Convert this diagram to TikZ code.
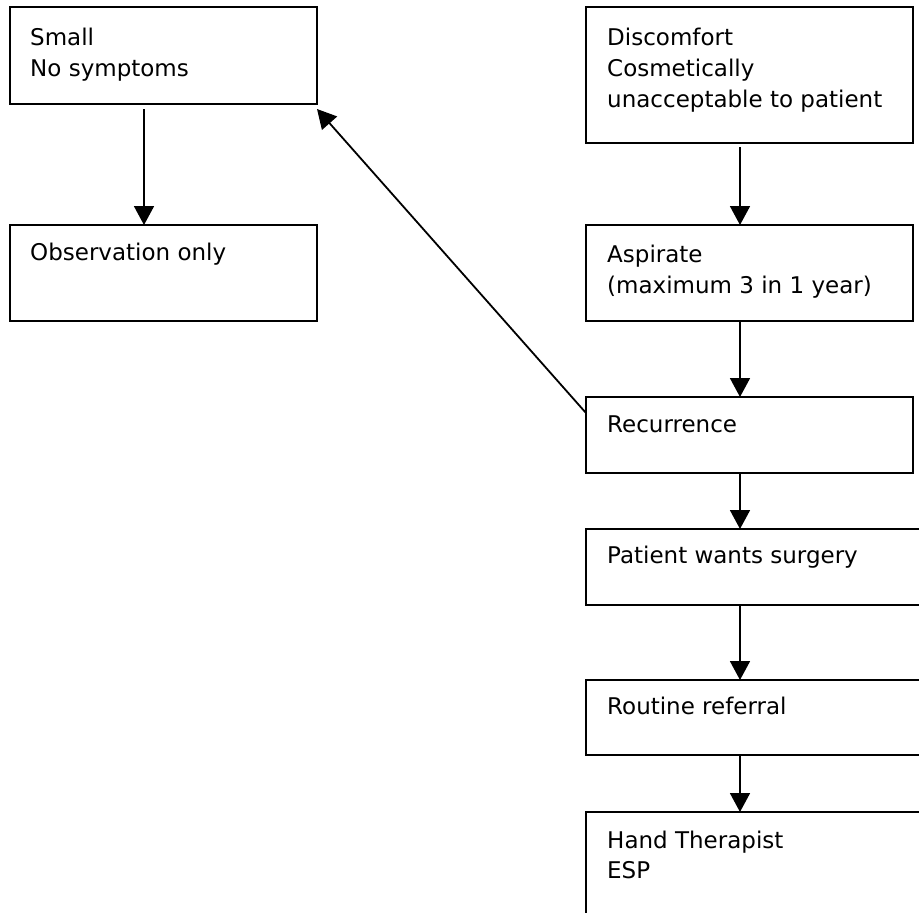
\documentclass[tikz,border=0pt]{standalone}
\usepackage{fontspec}
\setmainfont{DejaVu Sans}
\usetikzlibrary{arrows.meta,calc}
\begin{document}
\begin{tikzpicture}[x=1pt,y=-1pt,
  box/.style={draw=black,line width=1.8pt,rectangle,anchor=north west,inner sep=0pt,outer sep=0pt},
  txt/.style={anchor=base west,inner sep=0pt,font=\fontsize{23pt}{30pt}\selectfont},
  arr/.style={draw=black,line width=1.8pt,-{Triangle[width=20pt,length=19pt]}}]
\clip (0,0) rectangle (919,913);
\fill[white] (0,0) rectangle (919,913);
% boxes
\node[box,minimum width=307pt,minimum height=97pt] (small) at (10,7) {};
\node[box,minimum width=307pt,minimum height=96pt] (obs) at (10,225) {};
\node[box,minimum width=327pt,minimum height=136pt] (disc) at (586,7) {};
\node[box,minimum width=327pt,minimum height=96pt] (asp) at (586,225) {};
\node[box,minimum width=327pt,minimum height=76pt] (rec) at (586,397) {};
\node[box,minimum width=360pt,minimum height=76pt] (pat) at (586,529) {};
\node[box,minimum width=360pt,minimum height=75pt] (rout) at (586,680) {};
\node[box,minimum width=360pt,minimum height=130pt] (hand) at (586,812) {};
% texts
\node[txt] (t1) at (30,45) {Small};
\node[txt] (t2) at (30,76) {No symptoms};
\node[txt] (t3) at (30,260) {Observation only};
\node[txt] (t4) at (607,45) {Discomfort};
\node[txt] (t5) at (607,76) {Cosmetically};
\node[txt] (t6) at (607,107) {unacceptable to patient};
\node[txt] (t7) at (607,262) {Aspirate};
\node[txt] (t8) at (607,293) {(maximum 3 in 1 year)};
\node[txt] (t9) at (607,432) {Recurrence};
\node[txt] (t10) at (607,563) {Patient wants surgery};
\node[txt] (t11) at (607,714) {Routine referral};
\node[txt] (t12) at (607,848) {Hand Therapist};
\node[txt] (t13) at (607,878) {ESP};
% arrows
\draw[arr] ($(small.south west)+(134,5)$) -- ($(obs.north west)+(134,0)$);
\draw[arr] ($(disc.south west)+(154,4)$) -- ($(asp.north west)+(154,0)$);
\draw[arr] ($(asp.south west)+(154,0)$) -- ($(rec.north west)+(154,0)$);
\draw[arr] ($(rec.south west)+(154,0)$) -- ($(pat.north west)+(154,0)$);
\draw[arr] ($(pat.south west)+(154,0)$) -- ($(rout.north west)+(154,0)$);
\draw[arr] ($(rout.south west)+(154,0)$) -- ($(hand.north west)+(154,0)$);
\draw[arr] ($(rec.north west)+(0,16)$) -- ($(small.south east)+(0,5)$);
\end{tikzpicture}
\end{document}
